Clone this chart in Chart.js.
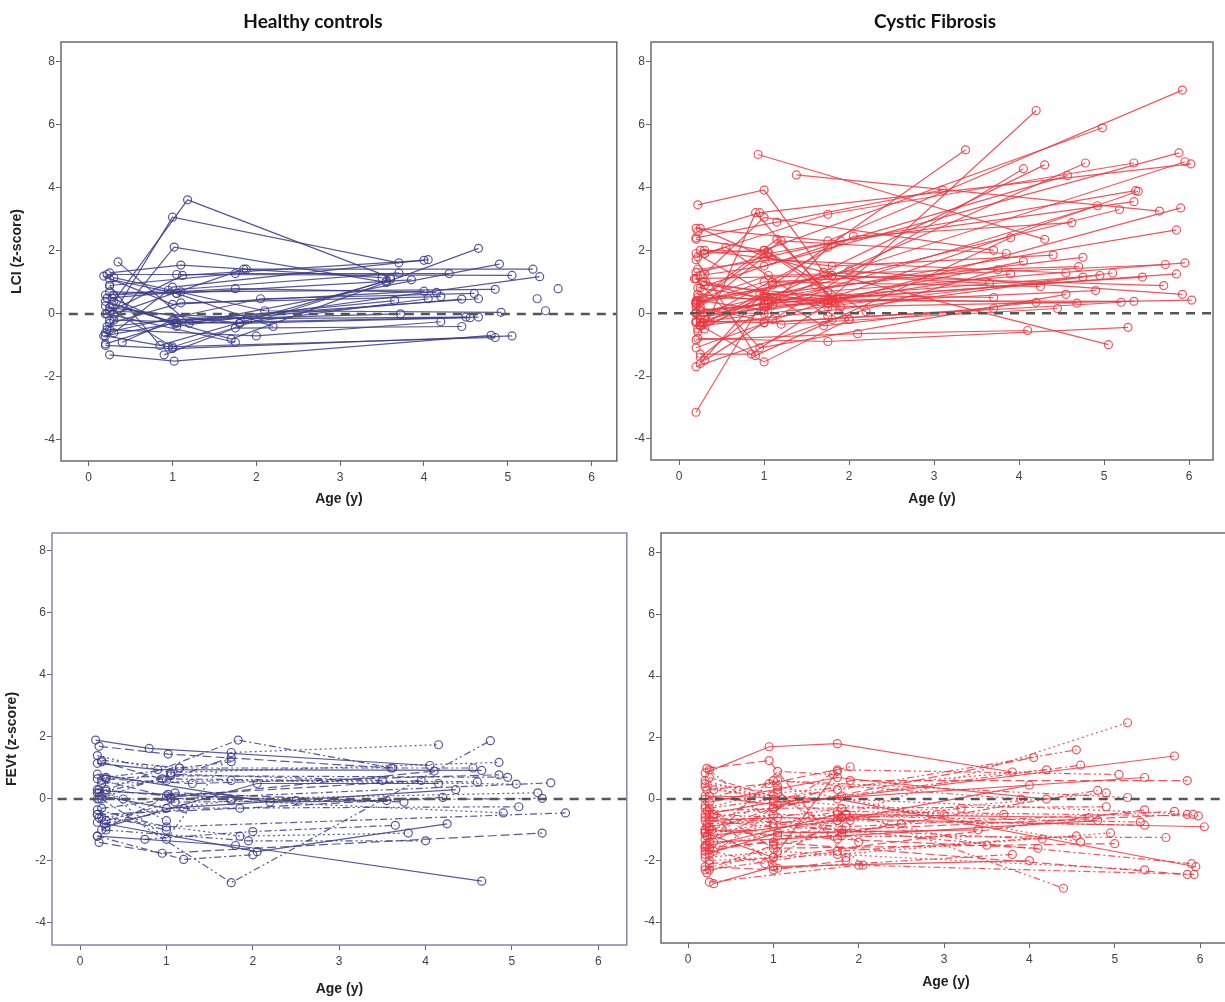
<!DOCTYPE html>
<html>
<head>
<meta charset="utf-8">
<script src="https://cdn.jsdelivr.net/npm/chart.js@4.4.0/dist/chart.umd.min.js"></script>
<style>
  body { margin: 0; background: #fff; width: 1225px; height: 1002px; position: relative; overflow: hidden; }
  canvas { position: absolute; }
</style>
</head>
<body>
<canvas id="lci-controles" width="622" height="515" style="left:0;top:0"></canvas>
<canvas id="lci-fc" width="605" height="515" style="left:620px;top:0"></canvas>
<canvas id="fevt-controles" width="632" height="487" style="left:0;top:515px"></canvas>
<canvas id="fevt-fc" width="616" height="487" style="left:620px;top:515px"></canvas>
<script>
// eixos
const ticksIdade = [0, 1, 2, 3, 4, 5, 6];
const ticksZ = [-4, -2, 0, 2, 4, 6, 8];

// LCI - controles saudaveis (idade em anos / z-score), um array por crianca
const idadesLciControles = [
  [0.3,1.18,3.6],[0.25,1.0,3.7],[0.22,1.02,3.55],[0.35,1.2,4.9],[0.25,1.1,1.88,5.3],
  [0.22,1.05,5.05],[0.25,1.75,4.3],[0.2,1.12,4.0],[0.3,1.0,4.05],[0.28,1.7,4.65],
  [0.2,0.95,3.7],[0.25,1.05,3.85],[0.22,1.1,4.85],[0.18,1.0,4.0],[0.3,1.75,4.15],
  [0.25,1.1,4.2],[0.2,2.05,4.6],[0.4,1.0,4.65],[0.18,1.02,4.45],[0.2,1.05,3.65],
  [0.25,1.8,4.05],[0.3,2.1,4.92],[0.22,1.02,3.72],[0.25,1.9,4.5],[0.3,1.8,4.55],
  [0.2,1.05,4.65],[0.25,2.0,4.2],[0.9,1.75,4.45],[0.25,1.02,4.8],[0.2,0.95,4.85],
  [0.2,1.0,5.05],[0.2,1.0,3.6],[0.25,0.85,3.55],[0.22,1.75],[0.25,1.05,2.2],
  [0.3,1.85,3.5],[5.6],[5.45],[5.35],[0.28,1.05,5.38]
];
const valoresLciControles = [
  [0.4,3.62,1.15],[-0.2,3.07,1.62],[-0.5,2.12,1.0],[1.65,-0.3,1.58],[1.3,1.55,1.42,1.42],
  [1.25,1.25,1.22],[0.9,1.28,1.28],[0.0,1.22,1.7],[-0.6,0.85,1.72],[0.3,-0.8,2.08],
  [0.6,0.75,1.3],[0.7,0.65,1.08],[0.5,0.7,0.78],[1.2,0.3,0.72],[0.6,0.8,0.68],
  [-0.3,0.35,0.55],[-0.6,0.48,0.65],[-0.9,-0.2,0.48],[-0.7,-0.3,0.47],[-0.95,-0.25,0.42],
  [0.2,-0.3,0.48],[1.15,0.1,0.05],[-0.4,-0.2,0.0],[0.1,-0.15,-0.1],[-0.2,-0.3,-0.12],
  [0.4,-0.3,-0.1],[-0.5,-0.7,-0.25],[-1.3,-0.45,-0.4],[-1.3,-1.5,-0.68],[-0.7,-1.05,-0.75],
  [-1.0,-1.1,-0.7],[0.25,-1.05,1.1],[0.9,-1.0,1.05],[0.0,-0.9],[1.1,0.65,-0.4],
  [0.0,1.42,1.15],[0.8],[0.1],[0.48],[0.5,-0.4,1.18]
];

// LCI - fibrose cistica
const idadesLciFc = [
  [0.22,1.0,1.7],[0.93,4.3],[1.38,5.65],[0.2,1.1,3.37],[0.25,1.8,4.2],
  [0.3,1.0,4.98],[0.2,1.75,5.92],[0.25,1.0,5.88],[0.2,1.8,5.95],[0.22,0.95,6.02],
  [0.3,1.75,5.35],[0.2,1.05,4.78],[0.25,1.1,4.05],[0.18,1.0,4.3],[0.22,1.8,4.57],
  [0.2,1.15,3.1],[0.25,1.05,5.37],[0.3,1.7,5.4],[0.2,1.9,5.35],[0.25,1.0,4.92],
  [0.2,1.6,5.18],[0.28,1.75,5.9],[0.22,1.1,5.85],[0.25,2.05,4.62],[0.2,0.9,3.9],
  [0.3,1.0,3.7],[0.2,1.2,3.85],[0.25,1.8,4.4],[0.22,1.0,4.75],[0.2,1.75,4.05],
  [0.28,1.05,4.7],[0.2,1.8,3.75],[0.25,1.0,3.9],[0.22,1.1,4.55],[0.2,1.0,5.72],
  [0.25,1.75,5.95],[0.2,1.05,5.1],[0.3,1.9,5.45],[0.2,1.0,5.85],[0.25,1.8,4.75],
  [0.22,1.05,4.95],[0.2,1.75,5.7],[0.3,1.1,4.9],[0.2,2.0,5.92],[0.25,1.75,6.03],
  [0.2,1.0,5.2],[0.22,1.8,5.35],[0.28,1.0,4.68],[0.2,1.7,4.2],[0.25,0.95,3.7],
  [0.2,1.2,4.45],[0.3,1.0,3.7],[0.2,2.1,4.1],[0.22,1.75,5.28],[0.25,1.0,5.05],
  [0.2,0.95,4.55],[0.25,1.1,4.25],[0.22,1.8,3.65],[0.2,1.0,1.75],[0.3,1.05,2.2],
  [0.2,1.0,2.0],[0.25,0.85,1.8],[0.2,1.15,1.9],[0.22,0.55,1.75],[0.3,0.9,2.0],
  [0.2,1.0,1.85]
];
const valoresLciFc = [
  [3.45,3.92,1.3],[5.05,2.35],[4.4,3.25],[-3.15,0.9,5.2],[0.1,0.5,6.45],
  [1.9,2.0,5.9],[2.7,2.3,7.1],[1.2,1.5,5.1],[0.3,1.2,4.82],[2.6,3.2,4.75],
  [1.9,3.15,4.78],[0.0,0.3,4.78],[-0.3,-0.2,4.6],[1.1,0.4,4.72],[0.8,2.2,4.38],
  [2.4,2.9,3.92],[0.2,1.9,3.9],[-0.1,0.4,3.88],[1.3,2.3,3.55],[-1.4,0.2,3.42],
  [0.0,0.9,3.3],[1.0,0.3,3.35],[-0.5,0.5,2.65],[-0.2,2.45,2.88],[1.7,-1.35,2.4],
  [1.25,3.05,2.0],[0.35,2.3,1.9],[2.0,1.5,1.85],[-0.6,0.6,1.78],[-1.1,0.4,1.65],
  [0.5,1.2,1.48],[-1.7,-0.2,1.38],[0.4,0.1,1.25],[1.4,1.7,1.28],[0.3,1.0,1.55],
  [-0.1,0.7,1.6],[-0.3,0.0,1.28],[0.9,0.5,1.15],[0.05,0.3,1.25],[-0.4,0.1,1.15],
  [0.6,0.4,1.2],[1.1,1.2,0.88],[-0.2,0.25,0.72],[0.35,1.35,0.6],[0.8,0.2,0.42],
  [-0.25,-0.3,0.35],[0.5,0.4,0.38],[-0.3,0.5,0.32],[1.9,-0.4,0.35],[-0.4,0.6,0.5],
  [0.2,-0.35,0.15],[-1.5,-0.3,0.15],[-0.85,-0.65,-0.55],[-0.8,-0.9,-0.45],[2.7,1.8,-1.0],
  [1.1,-1.1,0.6],[-1.6,1.0,0.85],[0.4,1.2,0.95],[0.0,0.0,2.1],[2.0,1.95,0.05],
  [-0.3,-1.55,-0.2],[-1.3,-1.3,0.4],[0.4,2.35,0.2],[1.8,2.1,-0.1],[-0.5,3.2,-0.2],
  [2.35,2.0,0.45]
];

// FEVt - controles saudaveis
const idadesFevtControles = [
  [0.18,0.8,4.05],[0.22,1.02,3.6],[0.22,1.83,3.62],[0.3,1.0,1.75,4.15],[0.25,1.75,4.75],
  [0.2,1.8,4.65],[0.22,0.95,5.35],[0.2,1.2,2.0],[0.2,1.05,4.85],[0.25,1.15,4.55],
  [0.2,0.9,4.65],[0.3,1.3,4.85],[0.2,1.05,4.95],[0.25,1.75,5.05],[0.2,0.95,4.6],
  [0.3,2.05,4.15],[0.22,1.0,3.95],[0.25,1.05,5.45],[0.2,1.75,5.3],[0.3,1.1,5.35],
  [0.25,1.0,4.35],[0.2,1.85,4.2],[0.2,1.0,5.62],[0.25,1.75,4.9],[0.28,1.2,5.08],
  [0.2,2.2,3.55],[0.25,1.1,3.75],[0.75,2.0,3.65],[0.22,1.85,3.8],[0.3,1.95,4.0],
  [0.2,2.05,4.25],[0.25,1.0,1.75],[0.3,1.15,1.75],[0.2,0.5,1.0],[0.22,1.05,3.5],
  [0.3,1.02,2.5],[0.25,1.05,4.1],[0.2,1.0]
];
const valoresFevtControles = [
  [1.9,1.63,1.08],[1.7,1.45,1.0],[0.2,1.9,1.0],[0.3,-1.3,1.5,1.75],[0.0,-2.7,1.88],
  [-1.2,-1.5,-2.65],[-1.4,-1.75,-1.1],[-1.2,-1.95,-1.8],[1.4,0.85,1.18],[1.25,1.0,1.0],
  [1.15,0.95,0.92],[0.65,0.5,0.78],[0.65,0.75,0.7],[0.5,0.6,0.48],[0.2,0.65,0.55],
  [-0.9,0.5,0.5],[0.3,0.1,0.6],[-0.3,0.0,0.52],[0.0,0.0,0.2],[-0.7,-0.1,0.02],
  [0.1,-0.3,0.3],[-0.5,-0.3,0.05],[-0.35,-0.9,-0.45],[-0.6,-0.05,-0.45],[-0.8,-0.3,-0.25],
  [0.8,-0.1,-0.05],[-1.0,0.2,-0.1],[-1.3,-1.05,-0.85],[-0.6,-1.2,-1.1],[-1.0,-1.35,-1.35],
  [-0.75,-1.7,-0.8],[1.2,0.6,1.35],[0.7,1.0,1.2],[0.3,0.0,-0.7],[0.0,0.8,0.6],
  [0.25,0.15,-0.05],[0.6,0.05,0.9],[-0.5,-1.0]
];

// FEVt - fibrose cistica
const idadesFevtFc = [
  [0.2,0.95,1.75,3.8],[0.22,0.95,1.85],[0.25,1.0,5.9],[0.2,1.85,5.15],[0.25,1.75,4.55],
  [0.2,1.05,5.7],[0.22,1.0,4.05],[0.3,1.8,4.6],[0.2,1.05,4.2],[0.25,1.75,5.05],
  [0.2,1.0,5.35],[0.28,1.9,5.85],[0.2,1.0,4.8],[0.25,1.8,4.9],[0.2,1.05,5.15],
  [0.22,1.75,4.0],[0.25,1.0,5.35],[0.2,1.85,5.7],[0.3,1.0,5.92],[0.2,1.75,5.98],
  [0.25,1.05,6.05],[0.2,1.8,5.85],[0.22,1.0,4.9],[0.25,1.75,4.95],[0.2,1.05,5.6],
  [0.3,1.8,4.8],[0.2,1.0,5.0],[0.25,1.75,4.55],[0.2,1.05,4.6],[0.22,1.9,5.35],
  [0.25,1.75,5.95],[0.2,1.0,5.85],[0.25,2.0,5.93],[0.2,1.05,5.35],[0.22,1.8,4.4],
  [0.3,1.0,4.0],[0.2,1.75,4.1],[0.25,1.05,3.8],[0.2,1.85,3.5],[0.22,1.0,3.9],
  [0.25,1.75,4.2],[0.2,1.0,1.85],[0.3,0.9,1.8],[0.2,1.05,2.05],[0.25,1.1,2.0],
  [0.2,1.0,1.75],[0.22,0.95,1.9],[0.25,1.05,1.7],[0.2,1.0,3.0],[0.3,1.75,3.2],
  [0.2,1.05,3.4],[0.25,1.8,2.5],[0.2,1.0,4.15],[0.22,1.8,3.7],[0.25,1.0,5.3],
  [0.2,1.75,4.7]
];
const valoresFevtFc = [
  [0.85,1.7,1.8,0.88],[1.0,1.25,-1.9],[0.95,-0.8,-2.1],[-1.1,-0.5,2.48],[-0.3,0.3,1.6],
  [0.1,-0.2,1.4],[-1.5,-0.3,1.35],[-0.6,0.1,1.1],[0.5,0.2,0.95],[-1.8,0.95,0.8],
  [-0.5,-0.1,0.7],[-1.0,0.6,0.6],[-2.3,-1.5,0.28],[-1.6,-0.6,0.2],[0.0,0.6,0.05],
  [-1.2,-0.7,0.45],[-2.1,-1.9,-0.35],[-0.6,-0.9,-0.4],[0.3,0.1,-0.5],[-1.3,-0.4,-0.55],
  [-0.7,-0.6,-0.9],[-1.7,-1.0,-0.5],[-0.4,-0.3,-0.25],[-2.0,-1.8,-1.1],[-1.0,-1.2,-1.25],
  [-1.4,-1.2,-0.7],[-0.2,-1.6,-1.45],[-2.3,-1.7,-1.2],[-1.5,0.4,-1.4],[-0.8,-0.7,-0.85],
  [0.1,0.0,-2.2],[-1.6,-1.4,-2.45],[-2.7,-2.15,-2.45],[-1.9,-1.7,-2.3],[-0.9,-0.3,-2.9],
  [-2.75,-2.2,-2.0],[-1.0,-1.3,-1.6],[-0.5,-2.25,-1.8],[0.4,-0.5,-1.5],[-1.2,0.6,0.0],
  [-0.1,0.7,0.0],[-2.2,-2.3,-2.0],[-1.7,-2.1,-0.6],[-0.3,0.3,-2.15],[0.7,0.0,-1.4],
  [-1.1,-1.9,0.9],[0.3,0.5,1.05],[-1.4,0.9,0.8],[0.6,0.0,-0.5],[-0.5,-0.7,-0.3],
  [-1.8,-1.1,-1.0],[-1.0,-1.1,-0.8],[-0.7,-0.9,-1.3],[-2.4,-0.6,-0.5],[-0.9,-0.5,-0.75],
  [-1.55,-0.5,-0.6]
];

// tracejados usados nos graficos de FEVt (solido, traco longo, traco-ponto, pontilhado, traco-ponto-ponto)
const tracejados = [[], [9, 4], [7, 3, 2, 3], [2, 3], [7, 3, 2, 3, 2, 3]];

const corControles = 'rgba(58, 60, 135, 0.85)';
const corFc = 'rgba(232, 58, 66, 0.85)';

function montarDatasets(idades, valores, cor, usarTracos) {
  // linha tracejada no zero fica por cima (primeiro dataset)
  const datasets = [{
    data: [{ x: -1, y: 0 }, { x: 7, y: 0 }],
    showLine: true,
    borderColor: '#555',
    borderWidth: 2.5,
    borderDash: [9, 7],
    pointRadius: 0
  }];
  idades.forEach((xs, i) => {
    datasets.push({
      data: xs.map((x, j) => ({ x: x, y: valores[i][j] })),
      showLine: true,
      borderColor: cor,
      borderWidth: 1.2,
      borderDash: usarTracos ? tracejados[i % tracejados.length] : [],
      pointRadius: 4,
      pointBorderWidth: 1.2,
      pointBorderColor: cor,
      pointBackgroundColor: 'rgba(0,0,0,0)'
    });
  });
  return datasets;
}

// moldura em volta da area do grafico + titulo do painel
const moldura = {
  id: 'moldura',
  afterDraw(chart, args, opts) {
    const ctx = chart.ctx;
    const a = chart.chartArea;
    ctx.save();
    ctx.strokeStyle = opts.cor;
    ctx.lineWidth = 1.5;
    ctx.strokeRect(a.left, a.top, a.right - a.left, a.bottom - a.top);
    if (opts.titulo) {
      ctx.fillStyle = '#111';
      ctx.font = 'bold 19px Lato, "Open Sans", sans-serif';
      ctx.textAlign = 'center';
      ctx.textBaseline = 'middle';
      ctx.fillText(opts.titulo, opts.tituloX, 22);
    }
    ctx.restore();
  }
};

function criarGrafico(id, cfg) {
  const ctx = document.getElementById(id).getContext('2d');
  const fonteTicks = { family: '"Liberation Sans Narrow", "Liberation Sans", sans-serif', size: 12 };
  const fonteTitulo = { family: '"Liberation Sans", Arial, sans-serif', size: 14, weight: 'bold' };
  return new Chart(ctx, {
    type: 'scatter',
    data: { datasets: montarDatasets(cfg.idades, cfg.valores, cfg.cor, cfg.tracos) },
    options: {
      responsive: false,
      animation: false,
      events: [],
      layout: { padding: cfg.padding },
      plugins: {
        legend: { display: false },
        tooltip: { enabled: false },
        moldura: { cor: cfg.corMoldura, titulo: cfg.titulo, tituloX: cfg.tituloX }
      },
      scales: {
        x: {
          type: 'linear',
          min: cfg.xMin, max: cfg.xMax,
          afterBuildTicks: eixo => { eixo.ticks = ticksIdade.map(v => ({ value: v })); },
          afterFit: eixo => { eixo.height = cfg.alturaX; },
          ticks: { color: '#444', font: fonteTicks, padding: 4 },
          grid: { drawOnChartArea: false, drawTicks: true, tickLength: 5, color: '#666' },
          border: { display: false },
          title: { display: true, text: 'Age (y)', color: '#222', font: fonteTitulo, padding: { top: 0, bottom: cfg.padTituloX } }
        },
        y: {
          type: 'linear',
          min: cfg.yMin, max: cfg.yMax,
          afterBuildTicks: eixo => { eixo.ticks = ticksZ.map(v => ({ value: v })); },
          afterFit: eixo => { eixo.width = cfg.larguraY; },
          ticks: { color: '#444', font: fonteTicks, padding: 1 },
          grid: { drawOnChartArea: false, drawTicks: true, tickLength: 5, color: '#666' },
          border: { display: false },
          title: { display: !!cfg.tituloY, text: cfg.tituloY || '', color: '#222', font: fonteTitulo, padding: { top: cfg.padTituloY || 0, bottom: 0 } }
        }
      }
    },
    plugins: [moldura]
  });
}

criarGrafico('lci-controles', {
  idades: idadesLciControles, valores: valoresLciControles, cor: corControles, tracos: false,
  padding: { top: 42, right: 3, left: 0, bottom: 0 }, larguraY: 61, alturaX: 54,
  xMin: -0.33, xMax: 6.3, yMin: -4.67, yMax: 8.63,
  corMoldura: '#6a6a6a', titulo: 'Healthy controls', tituloX: 313,
  tituloY: 'LCI (z-score)', padTituloY: 9, padTituloX: 7
});

criarGrafico('lci-fc', {
  idades: idadesLciFc, valores: valoresLciFc, cor: corFc, tracos: false,
  padding: { top: 42, right: 12, left: 0, bottom: 0 }, larguraY: 31, alturaX: 55,
  xMin: -0.33, xMax: 6.28, yMin: -4.67, yMax: 8.63,
  corMoldura: '#6a6a6a', titulo: 'Cystic Fibrosis', tituloX: 315,
  padTituloX: 7
});

criarGrafico('fevt-controles', {
  idades: idadesFevtControles, valores: valoresFevtControles, cor: corControles, tracos: true,
  padding: { top: 18, right: 2, left: 0, bottom: 0 }, larguraY: 52, alturaX: 57,
  xMin: -0.325, xMax: 6.33, yMin: -4.71, yMax: 8.58,
  corMoldura: '#8486ad',
  tituloY: 'FEVt (z-score)', padTituloY: 4, padTituloX: 4
});

criarGrafico('fevt-fc', {
  idades: idadesFevtFc, valores: valoresFevtFc, cor: corFc, tracos: true,
  padding: { top: 18, right: 1, left: 0, bottom: 0 }, larguraY: 41, alturaX: 59,
  xMin: -0.317, xMax: 6.36, yMin: -4.68, yMax: 8.65,
  corMoldura: '#6a6a6a',
  padTituloX: 11
});
</script>
</body>
</html>
